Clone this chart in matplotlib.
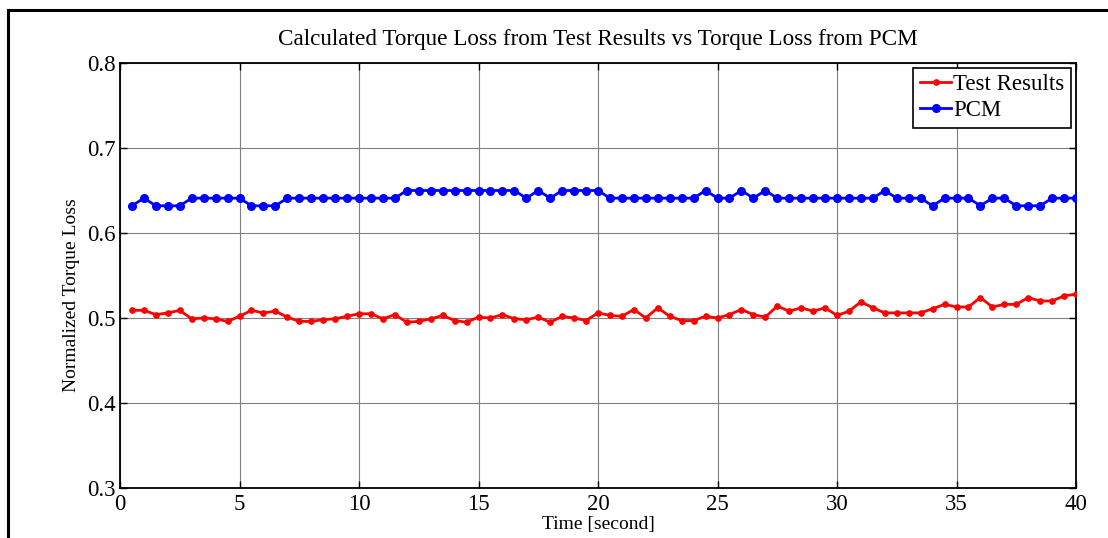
import matplotlib
matplotlib.use("Agg")
import matplotlib.pyplot as plt
import numpy as np
from matplotlib.lines import Line2D

time_s = [0.5 * i for i in range(1, 81)]

test_results = [
    0.509, 0.509, 0.504, 0.506, 0.509, 0.499, 0.500, 0.499, 0.496, 0.502,
    0.509, 0.506, 0.508, 0.501, 0.496, 0.496, 0.498, 0.499, 0.502, 0.505,
    0.505, 0.499, 0.504, 0.495, 0.496, 0.499, 0.503, 0.497, 0.495, 0.501,
    0.500, 0.504, 0.499, 0.498, 0.501, 0.495, 0.502, 0.500, 0.497, 0.506,
    0.503, 0.502, 0.510, 0.500, 0.512, 0.502, 0.497, 0.497, 0.502, 0.500,
    0.504, 0.510, 0.504, 0.501, 0.514, 0.508, 0.512, 0.508, 0.512, 0.503,
    0.508, 0.519, 0.512, 0.506, 0.506, 0.506, 0.506, 0.511, 0.516, 0.513,
    0.513, 0.524, 0.513, 0.516, 0.516, 0.524, 0.520, 0.520, 0.526, 0.528,
]

L, M, H = 0.632, 0.641, 0.650
pcm = [
    L, M, L, L, L, M, M, M, M, M,
    L, L, L, M, M, M, M, M, M, M,
    M, M, M, H, H, H, H, H, H, H,
    H, H, H, M, H, M, H, H, H, H,
    M, M, M, M, M, M, M, M, H, M,
    M, H, M, H, M, M, M, M, M, M,
    M, M, M, H, M, M, M, L, M, M,
    M, L, M, M, L, L, L, M, M, M,
]

x_ticks = [0, 5, 10, 15, 20, 25, 30, 35, 40]
y_ticks = [0.3, 0.4, 0.5, 0.6, 0.7, 0.8]

plt.rcParams['font.family'] = ['Liberation Serif', 'DejaVu Serif']

fig = plt.figure(figsize=(11.08, 5.38), dpi=100)
ax = fig.add_axes([120/1108, 1-488/538, (1076-120)/1108, (488-63)/538])

ax.plot(time_s, test_results, color='red', lw=2.0, marker='o', ms=3.8,
        label='Test Results', zorder=3)
ax.plot(time_s, pcm, color='blue', lw=2.0, marker='o', ms=5.5,
        label='PCM', zorder=3)

ax.set_xlim(0, 40)
ax.set_ylim(0.3, 0.8)
ax.set_xticks(x_ticks)
ax.set_yticks(y_ticks)
ax.set_xticklabels([str(v) for v in x_ticks])
ax.set_yticklabels([f"{v:.1f}" for v in y_ticks])
ax.grid(True, color='#808080', lw=0.8, zorder=0)
ax.tick_params(direction='in', length=5, width=1, labelsize=16.5,
               top=True, right=True, colors='black')
ax.tick_params(axis='x', pad=4)
ax.tick_params(axis='y', pad=3)
for sp in ax.spines.values():
    sp.set_linewidth(1.3)

ax.set_title('Calculated Torque Loss from Test Results vs Torque Loss from PCM',
             fontsize=16.7, pad=13)
ax.set_xlabel('Time [second]', fontsize=14)
ax.xaxis.set_label_coords(0.5, (488 - 525) / 425, transform=ax.transAxes)
ax.xaxis.label.set_verticalalignment('center')
ax.set_ylabel('Normalized Torque Loss', fontsize=14)
ax.yaxis.set_label_coords((72 - 120) / 956, (488 - 295) / 425,
                          transform=ax.transAxes)
ax.yaxis.label.set_verticalalignment('center')

leg = ax.legend(loc='upper right', fontsize=16.5, frameon=True, fancybox=False,
                edgecolor='black', framealpha=1, borderpad=0.3,
                handlelength=1.35, handletextpad=0.1, labelspacing=0.2,
                borderaxespad=0.2)
leg.get_frame().set_linewidth(1.2)

# outer frame (top and left edges)
fig.add_artist(Line2D([8/1108, 1.0], [1-10/538, 1-10/538], color='black',
                      lw=2.2, transform=fig.transFigure))
fig.add_artist(Line2D([8/1108, 8/1108], [0.0, 1-10/538], color='black',
                      lw=2.2, transform=fig.transFigure))

fig.savefig('out.png', dpi=100)
